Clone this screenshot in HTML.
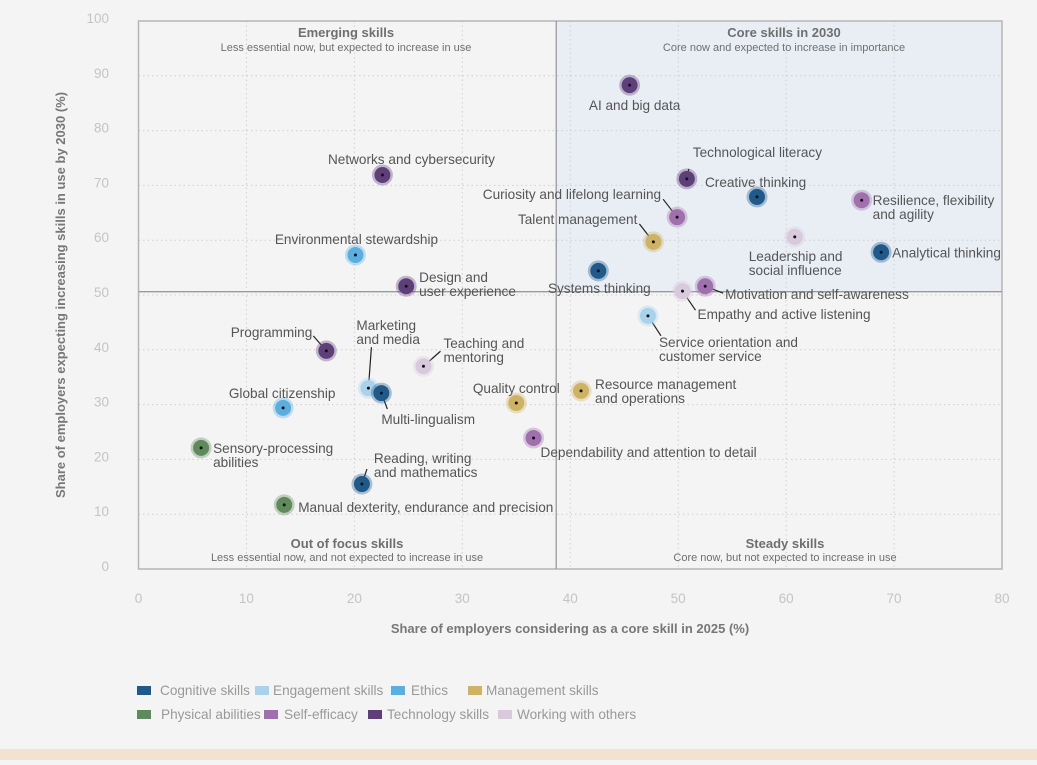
<!DOCTYPE html>
<html><head><meta charset="utf-8">
<style>
html,body{margin:0;padding:0;background:#f4f4f4;}
body{width:1037px;height:760px;overflow:hidden;position:relative;font-family:"Liberation Sans",sans-serif;}
svg text{font-family:"Liberation Sans",sans-serif;}
</style></head>
<body>
<svg id="chart" width="1037" height="760" viewBox="0 0 1037 760" xmlns="http://www.w3.org/2000/svg">
<rect x="0" y="749" width="1037" height="11" fill="#f3e2d2"/>
<g id="plot"></g>
</svg>
<script>
const categories = ["Cognitive skills","Engagement skills","Ethics","Management skills","Physical abilities","Self-efficacy","Technology skills","Working with others"];
const catColors = ["#1f5a8a","#a9d2ec","#5aaee0","#cdb363","#5f8a5c","#a070ad","#5e3f7a","#d8cadc"];
const skillNames = ["AI and big data","Networks and cybersecurity","Technological literacy","Creative thinking","Resilience, flexibility|and agility","Curiosity and lifelong learning","Talent management","Leadership and|social influence","Analytical thinking","Environmental stewardship","Systems thinking","Design and|user experience","Empathy and active listening","Motivation and self-awareness","Service orientation and|customer service","Programming","Teaching and|mentoring","Marketing|and media","Multi-lingualism","Resource management|and operations","Quality control","Global citizenship","Dependability and attention to detail","Sensory-processing|abilities","Reading, writing|and mathematics","Manual dexterity, endurance and precision"];
const skillCategory = [6,6,6,0,5,5,3,7,0,2,0,6,7,5,1,6,7,1,0,3,3,2,5,4,0,4];
const coreShare2025 = [45.5,22.6,50.8,57.3,67.0,49.9,47.7,60.8,68.8,20.1,42.6,24.8,50.4,52.5,47.2,17.4,26.4,21.3,22.5,41.0,35.0,13.4,36.6,5.8,20.7,13.5];
const increasing2030 = [88.3,71.9,71.2,67.9,67.3,64.2,59.7,60.6,57.8,57.3,54.4,51.6,50.7,51.6,46.2,39.8,37.0,33.0,32.1,32.5,30.3,29.4,23.9,22.1,15.5,11.7];
const xTicks = [0,10,20,30,40,50,60,70,80];
const yTicks = [0,10,20,30,40,50,60,70,80,90,100];
const xSplit = 38.7, ySplit = 50.6;

const labelLayout = [
 [5,20,"middle"],[29,-16,"middle"],[6,-27,"start",2,-10],[-52,-15,"start"],[11,0,"start"],
 [-16,-23,"end",-14,-18],[-16,-23,"end",-14,-18],[-46,19,"start"],[11,0,"start"],[1,-16,"middle"],
 [1,17,"middle"],[13,-9,"start"],[15,23,"start",13,19],[20,8,"start",18,7],[11,26,"start",13,20],
 [-14,-19,"end",-13,-15],[20,-23,"start",17,-15],[-12,-63,"start",3,-41],[0,26,"start",6,16],[14,-7,"start"],
 [0,-15,"middle"],[-1,-15,"middle"],[7,14,"start"],[12,0,"start"],[12,-26,"start",5,-15],[14,2,"start"]
];

const L=138.5,R=1002,T=21,B=569;
const sx=v=>L+(v/80)*(R-L);
const sy=v=>B-(v/100)*(B-T);
const NS="http://www.w3.org/2000/svg";
const g=document.getElementById('plot');
function el(tag,attrs,parent){const e=document.createElementNS(NS,tag);for(const k in attrs)e.setAttribute(k,attrs[k]);(parent||g).appendChild(e);return e;}
function txt(x,y,s,attrs,parent){const t=el('text',Object.assign({x:x,y:y},attrs),parent);t.textContent=s;return t;}

const q=el('rect',{x:sx(xSplit),y:T,width:R-sx(xSplit),height:sy(ySplit)-T,fill:"#e9eef4"});


xTicks.forEach(v=>{
  if(v>0&&v<80){const l=el('line',{x1:sx(v),x2:sx(v),y1:T,y2:B,stroke:"#cfcfcf","stroke-dasharray":"1.5,3"});
  
  }
  const t=txt(sx(v),603,String(v),{"text-anchor":"middle","font-size":"13.5",fill:"#c4c4c4"});
  
  
});
yTicks.forEach(v=>{
  if(v>0&&v<100){const l=el('line',{x1:L,x2:R,y1:sy(v),y2:sy(v),stroke:"#cfcfcf","stroke-dasharray":"1.5,3"});
  
  }
  const t=txt(109,sy(v)+2,String(v),{"text-anchor":"end","font-size":"13.5",fill:"#c4c4c4"});
  
  
});
const fr=el('rect',{x:L,y:T,width:R-L,height:B-T,fill:"none",stroke:"#b5b5b5","stroke-width":"1.5"});


const dv=el('line',{x1:sx(xSplit),x2:sx(xSplit),y1:T,y2:B,stroke:"#9a9a9a","stroke-width":"1.3"});


const dh=el('line',{x1:L,x2:R,y1:sy(ySplit),y2:sy(ySplit),stroke:"#9a9a9a","stroke-width":"1.3"});



const quads=[[346,37,51,"Emerging skills","Less essential now, but expected to increase in use"],[784,37,51,"Core skills in 2030","Core now and expected to increase in importance"],[347,548,561,"Out of focus skills","Less essential now, and not expected to increase in use"],[785,548,561,"Steady skills","Core now, but not expected to increase in use"]];
quads.forEach(qd=>{
  const a=txt(qd[0],qd[1],qd[3],{"text-anchor":"middle","font-size":"13","font-weight":"bold",fill:"#6f6f6f"});
  
  
  const b=txt(qd[0],qd[2],qd[4],{"text-anchor":"middle","font-size":"11",fill:"#6f6f6f"});
  
  
});

skillNames.forEach((name,i)=>{
  const px=sx(coreShare2025[i]),py=sy(increasing2030[i]),c=catColors[skillCategory[i]];
  const grp=el('g',{});
  
  
  const lay=labelLayout[i];
  if(lay.length>3){el('line',{x1:px,y1:py,x2:px+lay[3],y2:py+lay[4],stroke:"#222","stroke-width":"1.2"},grp);}
  el('circle',{cx:px,cy:py,r:10.5,fill:c,opacity:0.35},grp);
  el('circle',{cx:px,cy:py,r:8,fill:c},grp);
  el('circle',{cx:px,cy:py,r:1.5,fill:"#111"},grp);
  const lines=name.split('|');
  lines.forEach((ln,k)=>{
    const t=txt(px+lay[0],py+lay[1]+5+k*14,ln,{"text-anchor":lay[2],"font-size":"13.6",fill:"#555"},grp);
    
    
  });
});

const xt=txt(570,633,"Share of employers considering as a core skill in 2025 (%)",{"text-anchor":"middle","font-size":"13","font-weight":"bold",fill:"#777"});


const yt=txt(0,0,"Share of employers expecting increasing skills in use by 2030 (%)",{"text-anchor":"middle","font-size":"13","font-weight":"bold",fill:"#777",transform:"translate(65,295) rotate(-90)"});



const legPos=[[137,691],[255,691],[391,691],[468,691],[137,715],[264,715],[368,715],[498,715]];
const legTextX=[160,273,411,486,161,284,387,517];
categories.forEach((cname,i)=>{
  const lg=el('g',{});
  
  
  el('rect',{x:legPos[i][0],y:legPos[i][1]-5,width:14,height:9,fill:catColors[i]},lg);
  txt(legTextX[i],legPos[i][1]+4,cname,{"font-size":"13.6",fill:"#999"},lg);
});
</script>
</body></html>
